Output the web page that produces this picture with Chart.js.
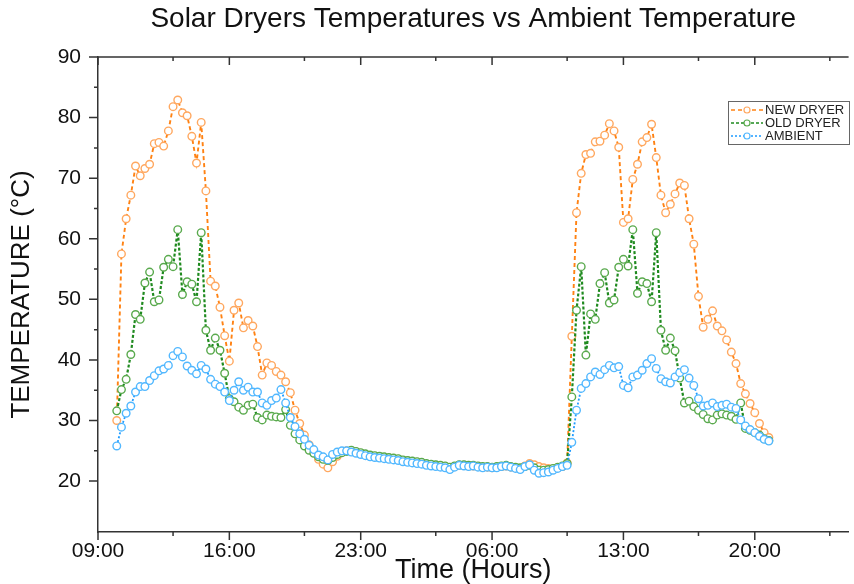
<!DOCTYPE html>
<html>
<head>
<meta charset="utf-8">
<title>Solar Dryers Temperatures vs Ambient Temperature</title>
<script src="https://cdn.jsdelivr.net/npm/chart.js@4.4.1/dist/chart.umd.min.js"></script>
<style>
  html, body { margin: 0; padding: 0; background: #fff; }
  canvas { display: block; }
</style>
</head>
<body>
<canvas id="chart" width="854" height="584"></canvas>
<script>
// readings every 15 min, first one at 10:00 (hours counted from 09:00)
const START_HOUR = 1;
const INTERVAL = 0.25;

const newDryer = [
  30.0, 57.5, 63.3, 67.2, 72.0, 70.4, 71.6, 72.3, 75.7, 75.9,
  75.3, 77.8, 81.8, 82.9, 80.8, 80.3, 76.9, 72.5, 79.2, 67.9,
  53.0, 52.2, 48.7, 44.0, 39.8, 48.2, 49.4, 45.3, 46.5, 45.6,
  42.2, 37.5, 39.5, 39.1, 38.1, 37.5, 36.4, 34.6, 31.7, 29.5,
  27.6, 26.0, 24.8, 23.6, 22.8, 22.2, 23.2, 24.1, 24.7, 25.0,
  25.0, 24.8, 24.6, 24.4, 24.2, 24.1, 24.0, 23.9, 23.8, 23.7,
  23.6, 23.4, 23.3, 23.2, 23.1, 23.0, 22.8, 22.7, 22.6, 22.5,
  22.4, 22.2, 22.4, 22.6, 22.6, 22.5, 22.5, 22.4, 22.3, 22.3,
  22.2, 22.3, 22.4, 22.5, 22.3, 22.2, 22.1, 22.5, 22.9, 22.7,
  22.4, 22.2, 22.1, 22.0, 22.2, 22.4, 23.0, 43.9, 64.3, 70.8,
  73.9, 74.1, 76.0, 76.1, 77.1, 79.0, 77.8, 75.1, 62.7, 63.3,
  69.8, 72.3, 76.0, 76.7, 78.9, 73.4, 67.2, 64.3, 65.7, 67.4,
  69.2, 68.8, 63.3, 59.1, 50.5, 45.4, 46.7, 48.1, 45.6, 44.8,
  43.3, 41.3, 39.4, 36.1, 34.4, 32.8, 31.3, 29.5, 28.0, 27.2
];

const oldDryer = [
  31.6, 35.1, 36.8, 40.9, 47.5, 46.7, 52.7, 54.5, 49.6, 49.9,
  55.3, 56.6, 55.4, 61.5, 50.8, 52.9, 52.5, 49.6, 61.0, 44.9,
  41.6, 43.6, 41.6, 37.8, 33.6, 33.1, 32.2, 31.7, 32.5, 32.7,
  30.5, 30.1, 30.9, 30.7, 30.6, 30.5, 31.8, 29.2, 27.8, 26.8,
  25.8, 25.1, 24.6, 24.0, 23.6, 23.4, 23.9, 24.4, 24.7, 24.9,
  25.1, 24.9, 24.7, 24.5, 24.3, 24.2, 24.1, 24.0, 23.9, 23.8,
  23.7, 23.5, 23.4, 23.3, 23.2, 23.1, 22.9, 22.8, 22.7, 22.6,
  22.5, 22.3, 22.5, 22.7, 22.7, 22.6, 22.6, 22.5, 22.4, 22.4,
  22.3, 22.4, 22.5, 22.6, 22.4, 22.3, 22.2, 22.4, 22.6, 22.2,
  21.8, 21.8, 21.9, 22.1, 22.3, 22.5, 22.9, 33.9, 48.2, 55.4,
  40.8, 47.6, 46.7, 52.6, 54.4, 49.4, 49.9, 55.3, 56.6, 55.5,
  61.5, 51.0, 52.9, 52.6, 49.6, 61.0, 44.9, 41.6, 43.6, 41.5,
  37.0, 32.9, 33.2, 32.3, 31.7, 31.0, 30.3, 30.1, 30.9, 31.1,
  30.9, 30.7, 30.2, 32.9, 28.7, 28.4, 28.0, 27.6, 27.0, 26.7
];

const ambient = [
  25.8, 28.9, 31.2, 32.4, 34.7, 35.6, 35.6, 36.6, 37.4, 38.2,
  38.5, 39.1, 40.7, 41.4, 40.5, 39.0, 38.3, 37.7, 39.1, 38.5,
  36.8, 36.0, 35.6, 34.7, 33.3, 35.0, 36.4, 35.0, 35.5, 34.7,
  34.7, 32.9, 32.5, 33.3, 33.7, 35.1, 32.9, 30.5, 29.0, 27.8,
  26.9, 25.9, 25.2, 24.3, 24.0, 23.5, 24.4, 24.8, 25.0, 25.0,
  24.8, 24.6, 24.4, 24.2, 24.0, 23.9, 23.8, 23.7, 23.6, 23.5,
  23.4, 23.2, 23.1, 23.0, 22.9, 22.8, 22.6, 22.5, 22.4, 22.3,
  22.2, 21.9, 22.3, 22.6, 22.5, 22.4, 22.5, 22.3, 22.2, 22.3,
  22.2, 22.2, 22.4, 22.5, 22.3, 22.1, 21.9, 22.4, 22.7, 21.8,
  21.3, 21.4, 21.5, 21.8, 22.1, 22.4, 22.6, 26.4, 31.7, 35.3,
  36.1, 37.2, 38.0, 37.6, 38.4, 39.1, 38.7, 38.9, 35.8, 35.4,
  37.2, 37.5, 38.3, 39.4, 40.2, 38.6, 36.9, 36.4, 36.2, 37.2,
  37.9, 38.4, 37.0, 35.8, 33.6, 32.4, 32.5, 32.9, 32.3, 32.5,
  32.7, 32.2, 32.0, 30.1, 29.1, 28.5, 28.0, 27.4, 26.9, 26.6
];

// x axis: hours after 09:00
const xTickHours = [0, 7, 14, 21, 28, 35];
const xTickLabels = ['09:00', '16:00', '23:00', '06:00', '13:00', '20:00'];
const xMinorHours = [4, 11, 18, 25, 32, 39];
const yTicks = [20, 30, 40, 50, 60, 70, 80, 90];
const yMinor = [25, 35, 45, 55, 65, 75, 85];

const FONT = "'Liberation Sans', Arial, sans-serif";
const AXIS = '#333333';

function toPoints(values) {
    return values.map(function(v, i) {
        return { x: START_HOUR + i * INTERVAL, y: v };
    });
}

// tick marks (out on left/bottom, in on the top frame line)
const axisMarks = {
    id: 'axisMarks',
    afterDraw(chart) {
        const ctx = chart.ctx;
        const a = chart.chartArea;
        const xs = chart.scales.x;
        const ys = chart.scales.y;
        ctx.save();
        ctx.strokeStyle = AXIS;
        ctx.lineWidth = 1.5;
        ctx.beginPath();
        ctx.moveTo(a.left - 9, a.top);
        ctx.lineTo(a.right, a.top);
        yTicks.forEach(function(v) {
            let p = ys.getPixelForValue(v);
            ctx.moveTo(a.left - 9, p); ctx.lineTo(a.left, p);
        });
        yMinor.forEach(function(v) {
            let p = ys.getPixelForValue(v);
            ctx.moveTo(a.left - 4, p); ctx.lineTo(a.left, p);
        });
        xTickHours.forEach(function(v) {
            let p = xs.getPixelForValue(v);
            ctx.moveTo(p, a.bottom); ctx.lineTo(p, a.bottom + 8);
            ctx.moveTo(p, a.top); ctx.lineTo(p, a.top + 8);
        });
        xMinorHours.forEach(function(v) {
            let p = xs.getPixelForValue(v);
            ctx.moveTo(p, a.bottom); ctx.lineTo(p, a.bottom + 4);
            ctx.moveTo(p, a.top); ctx.lineTo(p, a.top + 4);
        });
        ctx.stroke();
        ctx.restore();
    }
};

// boxed legend in the upper right corner
const boxLegend = {
    id: 'boxLegend',
    afterDraw(chart) {
        const ctx = chart.ctx;
        const left = 728, top = 101, w = 121, h = 43;
        ctx.save();
        ctx.fillStyle = '#ffffff';
        ctx.fillRect(left, top, w, h);
        ctx.strokeStyle = '#666666';
        ctx.lineWidth = 1;
        ctx.strokeRect(left + 0.5, top + 0.5, w, h);
        chart.data.datasets.forEach(function(ds, i) {
            let cy = top + 9 + i * 13;
            ctx.strokeStyle = ds.borderColor;
            ctx.lineWidth = 1.5;
            ctx.setLineDash(ds.borderDash);
            ctx.beginPath();
            ctx.moveTo(left + 3, cy);
            ctx.lineTo(left + 35, cy);
            ctx.stroke();
            ctx.setLineDash([]);
            ctx.beginPath();
            ctx.arc(left + 19, cy, 3, 0, Math.PI * 2);
            ctx.fillStyle = '#ffffff';
            ctx.fill();
            ctx.strokeStyle = ds.pointBorderColor;
            ctx.lineWidth = 1.2;
            ctx.stroke();
            ctx.fillStyle = '#222222';
            ctx.font = '13px ' + FONT;
            ctx.textBaseline = 'middle';
            ctx.fillText(ds.label, left + 37, cy + 0.5);
        });
        ctx.restore();
    }
};

function makeSet(label, values, line, point, dash, width, order) {
    return {
        label: label,
        data: toPoints(values),
        borderColor: line,
        borderWidth: width,
        borderDash: dash,
        pointRadius: 3.8,
        pointBorderWidth: 1.4,
        pointBorderColor: point,
        pointBackgroundColor: '#ffffff',
        tension: 0,
        fill: false,
        order: order
    };
}

new Chart(document.getElementById('chart'), {
    type: 'line',
    data: {
        datasets: [
            makeSet('NEW DRYER', newDryer, '#ff8213', '#ffa860', [4, 3], 1.9, 3),
            makeSet('OLD DRYER', oldDryer, '#1f8a1f', '#5aaa4e', [3, 2], 2.2, 2),
            makeSet('AMBIENT', ambient, '#1e9bff', '#52b8ff', [2, 2], 1.8, 1)
        ]
    },
    options: {
        responsive: false,
        animation: false,
        layout: { padding: 0 },
        plugins: {
            legend: { display: false },
            tooltip: { enabled: false },
            title: {
                display: true,
                fullSize: false,
                text: 'Solar Dryers Temperatures vs Ambient Temperature',
                color: '#111',
                font: { family: FONT, size: 28, weight: 'normal', lineHeight: 1.2 },
                padding: { top: 2, bottom: 21.4 }
            }
        },
        scales: {
            x: {
                type: 'linear',
                min: 0,
                max: 40,
                grid: { display: false, drawTicks: false },
                border: { display: true, color: AXIS, width: 1.5 },
                afterFit: function(s) {
                    s.height = 52;
                    s.paddingLeft = 0;
                    s.paddingRight = 0;
                },
                afterBuildTicks: function(s) {
                    s.ticks = xTickHours.map(function(v) { return { value: v }; });
                },
                ticks: {
                    padding: 7,
                    color: '#111',
                    font: { family: FONT, size: 21 },
                    maxRotation: 0,
                    callback: function(v) {
                        let k = xTickHours.indexOf(v);
                        return k >= 0 ? xTickLabels[k] : '';
                    }
                },
                title: {
                    display: true,
                    text: 'Time (Hours)',
                    color: '#111',
                    font: { family: FONT, size: 27, lineHeight: 1 },
                    padding: 0
                }
            },
            y: {
                min: 11.6,
                max: 90,
                grid: { display: false, drawTicks: false },
                border: { display: true, color: AXIS, width: 1.5 },
                afterFit: function(s) {
                    s.width = 98;
                    s.paddingTop = 0;
                    s.paddingBottom = 0;
                },
                afterBuildTicks: function(s) {
                    s.ticks = yTicks.map(function(v) { return { value: v }; });
                },
                ticks: {
                    padding: 17,
                    color: '#111',
                    font: { family: FONT, size: 21 }
                },
                title: {
                    display: true,
                    text: 'TEMPERATURE (°C)',
                    color: '#111',
                    font: { family: FONT, size: 26, lineHeight: 1 },
                    padding: { top: 9, bottom: 0 }
                }
            }
        }
    },
    plugins: [axisMarks, boxLegend]
});
</script>
</body>
</html>
